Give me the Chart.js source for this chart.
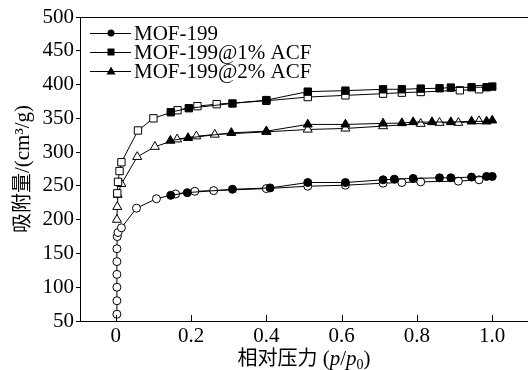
<!DOCTYPE html>
<html>
<head>
<meta charset="utf-8">
<script src="https://cdn.jsdelivr.net/npm/chart.js@4.4.1/dist/chart.umd.min.js"></script>
<style>
  html, body { margin: 0; padding: 0; background: #fff; }
  #wrap { width: 528px; height: 370px; }
</style>
</head>
<body>
<div id="wrap"><canvas id="chart" width="528" height="370"></canvas></div>
<script>
// --- DATA ---
const seriesNames = ["MOF-199", "MOF-199@1% ACF", "MOF-199@2% ACF"];
const markerStyles = ["circle", "rect", "triangle"];

// adsorption branch (filled markers)
const adsP199 = [0.146, 0.19, 0.31, 0.41, 0.51, 0.61, 0.71, 0.74, 0.79, 0.86, 0.89, 0.945, 0.985, 1.0];
const adsV199 = [236, 240, 245, 247, 255, 255, 259, 260, 261, 262, 262, 263, 264, 264];
const adsP1 = [0.146, 0.194, 0.31, 0.40, 0.51, 0.61, 0.71, 0.76, 0.81, 0.86, 0.89, 0.945, 0.985, 1.0];
const adsV1 = [359, 365, 372, 377, 389.5, 391, 393, 393, 394, 394.5, 395.5, 396, 396, 397];
const adsP2 = [0.145, 0.192, 0.307, 0.40, 0.51, 0.61, 0.71, 0.76, 0.79, 0.84, 0.89, 0.945, 0.985, 1.0];
const adsV2 = [317, 321, 328.5, 331, 341, 341, 342.5, 343, 344.5, 344.5, 344.5, 345.5, 345.5, 347];

// desorption branch (open markers)
const desP199 = [0.003, 0.003, 0.003, 0.003, 0.003, 0.003, 0.004, 0.006, 0.015, 0.055, 0.108, 0.159, 0.21, 0.26, 0.40, 0.51, 0.61, 0.71, 0.76, 0.81, 0.91, 0.965];
const desV199 = [60, 80, 100, 119, 138, 157, 175, 181, 188, 217, 231, 238, 242, 243, 246, 249.5, 251, 254, 255, 256, 257, 259];
const desP1 = [0.004, 0.006, 0.01, 0.015, 0.059, 0.10, 0.164, 0.217, 0.268, 0.40, 0.51, 0.61, 0.71, 0.76, 0.81, 0.914, 0.965];
const desV1 = [239, 256, 272, 285, 332, 350, 362, 368, 371, 376, 381.5, 384, 386.5, 388, 389, 391.5, 393];
const desP2 = [0.003, 0.004, 0.005, 0.015, 0.057, 0.104, 0.163, 0.214, 0.263, 0.40, 0.51, 0.61, 0.71, 0.81, 0.86, 0.91, 0.965];
const desV2 = [200, 219, 237, 253, 293, 308, 319, 323.5, 326, 330, 333.5, 335, 338.5, 342, 343.5, 343.5, 346];

const xTicks = [0, 0.2, 0.4, 0.6, 0.8, 1.0];
const xTickLabels = ["0", "0.2", "0.4", "0.6", "0.8", "1.0"];
const yTicks = [50, 100, 150, 200, 250, 300, 350, 400, 450, 500];

const xTitleCn = "相对压力";
const yTitleCn = "吸附量";
const yTitleUnit = "/(cm³/g)";

const SERIF = "'Liberation Serif', 'DejaVu Serif', serif";
const CJK = "'Noto Sans CJK SC', sans-serif";

function pts(px, py) {
  return px.map((p, i) => ({ x: p, y: py[i] }));
}

const radii = { circle: 4, rect: 5.2, triangle: 5.2 };

function makeSet(label, style, data, filled) {
  return {
    label,
    data,
    showLine: true,
    borderColor: "#000",
    borderWidth: 1,
    pointStyle: style,
    pointRadius: radii[style],
    pointBorderWidth: 1,
    pointBorderColor: "#000",
    pointBackgroundColor: filled ? "#000" : "#fff",
    pointHoverRadius: radii[style],
    fill: false,
  };
}

// --- PLUGINS ---
const frame = {
  id: "frame",
  afterDraw(chart) {
    const { ctx, chartArea } = chart;
    const xs = chart.scales.x;
    ctx.save();
    ctx.strokeStyle = "#000";
    ctx.lineWidth = 1;
    // top border
    ctx.beginPath();
    ctx.moveTo(chartArea.left, chartArea.top + 0.5);
    ctx.lineTo(chartArea.right, chartArea.top + 0.5);
    ctx.stroke();
    // inward x ticks
    xTicks.forEach((v) => {
      const px = Math.round(xs.getPixelForValue(v)) + 0.5;
      ctx.beginPath();
      ctx.moveTo(px, chartArea.bottom);
      ctx.lineTo(px, chartArea.bottom - 6);
      ctx.stroke();
    });

    // legend
    ctx.font = "21px " + SERIF;
    ctx.textBaseline = "middle";
    ctx.fillStyle = "#000";
    const rows = [33, 52, 71];
    seriesNames.forEach((name, i) => {
      const y = rows[i];
      ctx.beginPath();
      ctx.moveTo(90, y + 0.5);
      ctx.lineTo(131, y + 0.5);
      ctx.stroke();
      const mx = 111;
      ctx.beginPath();
      if (markerStyles[i] === "circle") {
        ctx.arc(mx, y, 3.5, 0, Math.PI * 2);
      } else if (markerStyles[i] === "rect") {
        ctx.rect(mx - 3.5, y - 3.5, 7, 7);
      } else {
        ctx.moveTo(mx, y - 4.5);
        ctx.lineTo(mx + 4.5, y + 3.5);
        ctx.lineTo(mx - 4.5, y + 3.5);
        ctx.closePath();
      }
      ctx.fill();
      ctx.fillText(name, 134, y + 1);
    });

    // x title
    const cx = 304;
    const by = 365;
    ctx.textBaseline = "alphabetic";
    const parts = [
      { t: xTitleCn, f: "20px " + CJK, dy: 0 },
      { t: " (", f: "21px " + SERIF, dy: 0 },
      { t: "p", f: "italic 21px " + SERIF, dy: 0 },
      { t: "/", f: "21px " + SERIF, dy: 0 },
      { t: "p", f: "italic 21px " + SERIF, dy: 0 },
      { t: "0", f: "14px " + SERIF, dy: 4 },
      { t: ")", f: "21px " + SERIF, dy: 0 },
    ];
    let total = 0;
    parts.forEach((p) => { ctx.font = p.f; p.w = ctx.measureText(p.t).width; total += p.w; });
    let x = cx - total / 2;
    ctx.textAlign = "left";
    parts.forEach((p) => { ctx.font = p.f; ctx.fillText(p.t, x, by + p.dy); x += p.w; });

    // y title
    const cy = (chartArea.top + chartArea.bottom) / 2;
    ctx.translate(29, cy);
    ctx.rotate(-Math.PI / 2);
    ctx.font = "20px " + CJK;
    const w1 = ctx.measureText(yTitleCn).width;
    ctx.font = "21px " + SERIF;
    const w2 = ctx.measureText(yTitleUnit).width;
    let yx = -(w1 + w2) / 2;
    ctx.font = "20px " + CJK;
    ctx.fillText(yTitleCn, yx, 0);
    ctx.font = "21px " + SERIF;
    ctx.fillText(yTitleUnit, yx + w1, 0);
    ctx.restore();
  },
};

// --- CHART ---
const ctx = document.getElementById("chart").getContext("2d");
new Chart(ctx, {
  type: "scatter",
  data: {
    datasets: [
      makeSet(seriesNames[0], "circle", pts(adsP199, adsV199), true),
      makeSet(seriesNames[1], "rect", pts(adsP1, adsV1), true),
      makeSet(seriesNames[2], "triangle", pts(adsP2, adsV2), true),
      makeSet(seriesNames[0], "circle", pts(desP199, desV199), false),
      makeSet(seriesNames[1], "rect", pts(desP1, desV1), false),
      makeSet(seriesNames[2], "triangle", pts(desP2, desV2), false),
    ],
  },
  options: {
    responsive: false,
    animation: false,
    layout: { autoPadding: false, padding: { top: 17, right: 0, left: 0, bottom: 0 } },
    plugins: { legend: { display: false }, tooltip: { enabled: false } },
    scales: {
      x: {
        type: "linear",
        min: -0.095,
        max: 1.095,
        afterBuildTicks: (s) => { s.ticks = xTicks.map((v) => ({ value: v })); },
        afterFit: (s) => { s.height = 49; s.paddingLeft = 0; s.paddingRight = 0; },
        grid: { display: false, drawTicks: false },
        border: { display: true, color: "#000", width: 1 },
        ticks: {
          color: "#000",
          font: { family: SERIF, size: 21 },
          padding: 3,
          maxRotation: 0,
          callback: (v) => xTickLabels[xTicks.indexOf(Math.round(v * 10) / 10)] ?? "",
        },
      },
      y: {
        min: 50,
        max: 500,
        afterBuildTicks: (s) => { s.ticks = yTicks.map((v) => ({ value: v })); },
        afterFit: (s) => { s.width = 80; s.paddingTop = 0; s.paddingBottom = 0; },
        grid: { drawOnChartArea: false, drawTicks: true, tickLength: 4, color: "#000" },
        border: { display: true, color: "#000", width: 1 },
        ticks: {
          color: "#000",
          font: { family: SERIF, size: 21 },
          padding: 2,
        },
      },
    },
  },
  plugins: [frame],
});
</script>
</body>
</html>
